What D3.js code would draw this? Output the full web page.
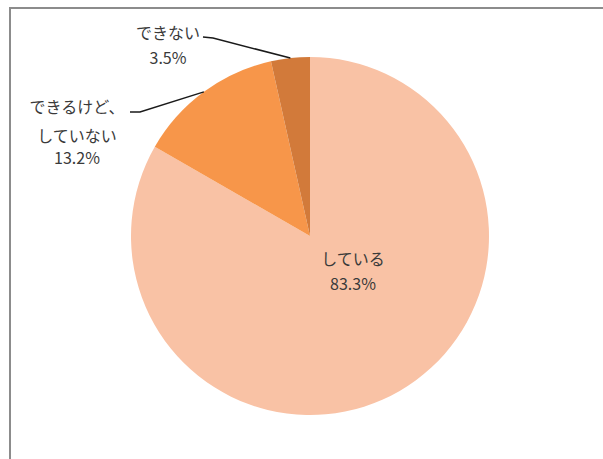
<!DOCTYPE html>
<html lang="ja">
<head>
<meta charset="utf-8">
<script src="https://cdn.jsdelivr.net/npm/d3@7"></script>
<style>
  html, body { margin: 0; padding: 0; background: #fff; }
  svg { display: block; }
  text { font-family: "Noto Sans CJK JP", "Noto Sans", sans-serif; fill: #3a3a3a; }
</style>
</head>
<body>
<svg id="chart" width="603" height="459"></svg>
<script>
// Survey answers, drawn clockwise from 12 o'clock
const categories = ["している", "できるけど、していない", "できない"];
const values = [83.3, 13.2, 3.5];
const valueLabels = ["83.3%", "13.2%", "3.5%"];
const colors = ["#F9C2A5", "#F7964A", "#D27A3A"];

const svg = d3.select("#chart");
const W = 603, H = 459;

// Chart frame (continues past the right and bottom edges)
svg.append("rect")
  .attr("x", 10).attr("y", 8)
  .attr("width", W + 20).attr("height", H + 20)
  .attr("fill", "#fff")
  .attr("stroke", "#8C8C8C")
  .attr("stroke-width", 2);

const cx = 310, cy = 236, R = 179;
const g = svg.append("g").attr("transform", `translate(${cx},${cy})`);

const pie = d3.pie().sort(null).value(d => d)(values);
const arc = d3.arc().innerRadius(0).outerRadius(R);

g.selectAll("path.slice")
  .data(pie)
  .join("path")
  .attr("class", "slice")
  .attr("d", arc)
  .attr("fill", (d, i) => colors[i]);

// Label placements (relative to the pie centre) and text lines
const labelSpecs = [
  { lines: ["している", valueLabels[0]], x: 43, y: 22, gaps: [0, 25], leader: null },
  { lines: ["できるけど、", "していない", valueLabels[1]], x: -233, y: -130, gaps: [0, 29, 51], leader: [[-180, -124], [-170, -124]] },
  { lines: ["できない", valueLabels[2]], x: -142, y: -204, gaps: [0, 25], leader: [[-107, -199], [-97, -198]] }
];

labelSpecs.forEach((spec, i) => {
  const t = g.append("text")
    .attr("text-anchor", "middle")
    .attr("font-size", 16);
  spec.lines.forEach((ln, k) => {
    t.append("tspan")
      .attr("x", spec.x)
      .attr("y", spec.y + spec.gaps[k])
      .attr("dominant-baseline", "central")
      .text(ln);
  });
  if (spec.leader) {
    // leader ends on the slice's outer edge at its mid angle
    const d = pie[i];
    const a = (d.startAngle + d.endAngle) / 2;
    const end = [Math.sin(a) * R, -Math.cos(a) * R];
    g.append("path")
      .attr("d", d3.line()([...spec.leader, end]))
      .attr("fill", "none")
      .attr("stroke", "#1a1a1a")
      .attr("stroke-width", 1.5);
  }
});
</script>
</body>
</html>
